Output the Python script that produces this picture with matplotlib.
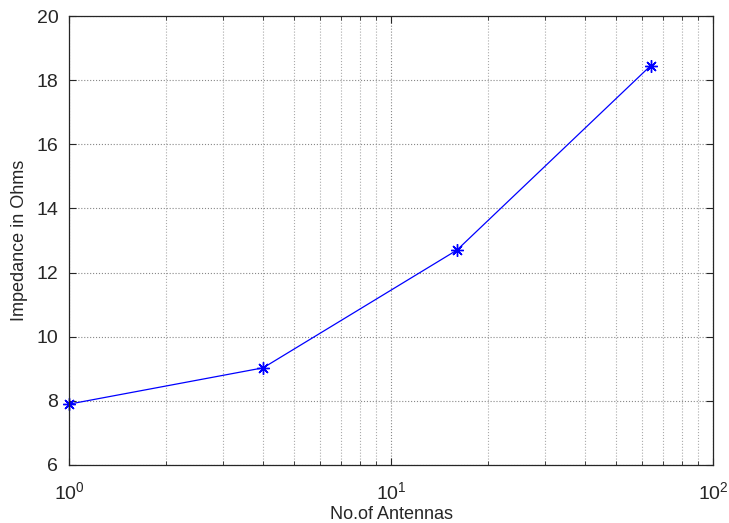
import matplotlib
matplotlib.use("Agg")
import matplotlib.pyplot as plt

plt.rcParams['font.family'] = ['Liberation Sans', 'DejaVu Sans']
plt.rcParams['mathtext.fontset'] = 'custom'
plt.rcParams['mathtext.rm'] = 'Liberation Sans'
plt.rcParams['mathtext.it'] = 'Liberation Sans'

# data
antennas = [1, 4, 16, 64]
impedance = [7.9, 9.03, 12.7, 18.45]

fig = plt.figure(figsize=(7.29, 5.23), dpi=100)
ax = fig.add_axes([0.0953, 0.1109, 0.8827, 0.8585])

ax.semilogx(antennas, impedance, color='#0000ff', lw=0.9, marker=(8, 2, 0),
            markersize=9, markeredgewidth=1.0, clip_on=False)

ax.set_xlim(1, 100)
ax.set_ylim(6, 20)
ax.set_yticks([6, 8, 10, 12, 14, 16, 18, 20])

ax.grid(True, which='major', linestyle=':', color='#888888', lw=0.8)
ax.grid(True, which='minor', axis='x', linestyle=':', color='#aaaaaa', lw=0.8)
ax.tick_params(which='both', direction='in', top=True, right=True,
               labelsize=14, colors='#262626')
ax.tick_params(which='major', length=5)
ax.tick_params(which='minor', length=3)
ax.tick_params(axis='x', which='major', pad=12)
ax.tick_params(axis='y', which='major', pad=8)
for s in ax.spines.values():
    s.set_color('#262626')
    s.set_linewidth(0.9)

ax.set_xlabel('No.of Antennas', fontsize=13, color='#262626', labelpad=2)
ax.set_ylabel('Impedance in Ohms', fontsize=13, color='#262626', labelpad=6)

fig.savefig('out.png', dpi=100)
